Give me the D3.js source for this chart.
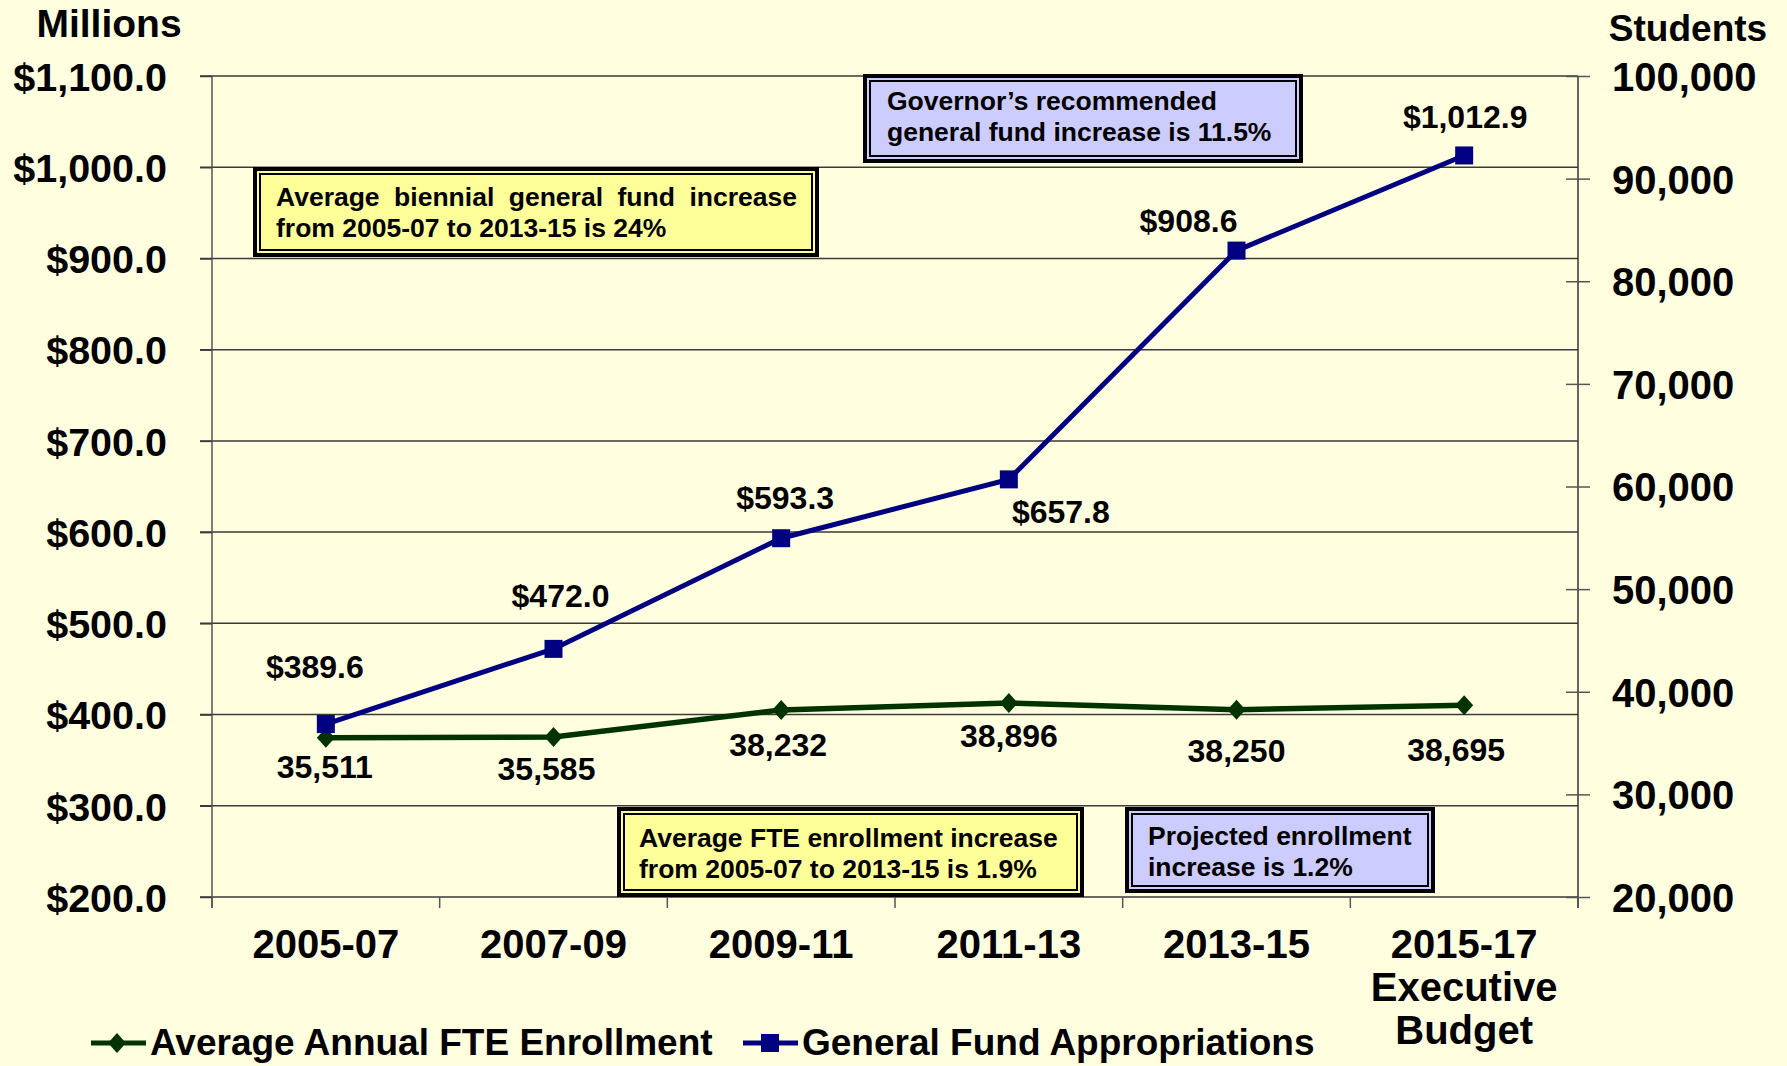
<!DOCTYPE html>
<html>
<head>
<meta charset="utf-8">
<script src="https://cdn.jsdelivr.net/npm/d3@7"></script>
<style>
  body { margin: 0; background: #ffffe0; }
  svg text { font-family: "Liberation Sans", Arial, sans-serif; font-weight: bold; fill: #000; }
</style>
</head>
<body>
<svg id="chart"></svg>
<script>
const categories = ['2005-07', '2007-09', '2009-11', '2011-13', '2013-15', '2015-17']
const categoryLines = [['2005-07'], ['2007-09'], ['2009-11'], ['2011-13'], ['2013-15'], ['2015-17', 'Executive', 'Budget']]
const fundValues = [389.6, 472.0, 593.3, 657.8, 908.6, 1012.9]
const enrollValues = [35511, 35585, 38232, 38896, 38250, 38695]
const leftTicks = [200, 300, 400, 500, 600, 700, 800, 900, 1000, 1100]
const rightTicks = [20000, 30000, 40000, 50000, 60000, 70000, 80000, 90000, 100000]
const seriesNames = ['Average Annual FTE Enrollment', 'General Fund Appropriations']

// where the value labels sit relative to their point (layout only)
const fundLabelOffset = [[-11, -46], [7, -42], [4, -29], [52, 44], [-48, -19], [1, -27]]
const enrollLabelOffset = [[-1, 40], [-7, 43], [-3, 46], [0, 44], [0, 52], [-8, 56]]

const notes = [
    { lines: ['Average biennial general fund increase', 'from 2005-07 to 2013-15 is 24%'], fill: '#ffff99', box: [253, 167, 819, 257], tx: 276, ty: 206, spread: 797 },
    { lines: ['Governor\u2019s recommended', 'general fund increase is 11.5%'], fill: '#ccccff', box: [863, 74, 1303, 163], tx: 887, ty: 110 },
    { lines: ['Average FTE enrollment increase', 'from 2005-07 to 2013-15 is 1.9%'], fill: '#ffff99', box: [617, 807, 1084, 897], tx: 639, ty: 847 },
    { lines: ['Projected enrollment', 'increase is 1.2%'], fill: '#ccccff', box: [1125, 807, 1435, 893], tx: 1148, ty: 845 },
]

const W = 1787, H = 1066
const plotL = 212, plotR = 1578, plotT = 76, plotB = 897
const navy = '#000080', green = '#003300'

const svg = d3.select('#chart').attr('width', W).attr('height', H)
svg.append('rect').attr('width', W).attr('height', H).attr('fill', '#ffffe0')

const x = d3.scaleBand().domain(categories).range([plotL, plotR])
const yL = d3.scaleLinear().domain([200, 1100]).range([plotB, plotT])
const yR = d3.scaleLinear().domain([20000, 100000]).range([plotB, plotT])
const cx = i => x(categories[i]) + x.bandwidth() / 2

// gridlines
svg.append('g').selectAll('line')
    .data(leftTicks)
    .enter().append('line')
    .attr('x1', plotL - 12).attr('x2', plotR)
    .attr('y1', d => yL(d)).attr('y2', d => yL(d))
    .attr('stroke', '#3a3a3a').attr('stroke-width', 1.5)

// left axis
const axL = svg.append('g').attr('transform', `translate(${plotL},0)`)
    .call(d3.axisLeft(yL).tickValues(leftTicks).tickSize(12).tickPadding(33)
        .tickFormat(d => '$' + d3.format(',.1f')(d)))
axL.select('.domain').attr('stroke', '#555').attr('stroke-width', 1.5).attr('d', `M0,${plotT}V${plotB + 11}`)
axL.selectAll('text').style('font-size', '39.5px').attr('dy', '0.36em')
axL.selectAll('line').attr('stroke', '#3a3a3a').attr('stroke-width', 1.5)

// right axis
const axR = svg.append('g').attr('transform', `translate(${plotR},0)`)
    .call(d3.axisRight(yR).tickValues(rightTicks).tickSize(12).tickPadding(22)
        .tickFormat(d3.format(',')))
axR.select('.domain').attr('stroke', '#333').attr('stroke-width', 1.5).attr('d', `M0,${plotT}V${plotB + 11}`)
axR.selectAll('line').attr('x1', -12).attr('x2', 12).attr('stroke', '#555').attr('stroke-width', 1.5)
axR.selectAll('text').style('font-size', '40px').attr('dy', '0.36em')

// bottom axis: ticks on category boundaries, labels centred
const bounds = categories.map(c => x(c)).concat([plotR])
svg.append('g').selectAll('line')
    .data(bounds)
    .enter().append('line')
    .attr('x1', d => d).attr('x2', d => d)
    .attr('y1', plotB).attr('y2', plotB + 11)
    .attr('stroke', '#555').attr('stroke-width', 1.5)

svg.append('g').selectAll('text')
    .data(categoryLines)
    .enter().append('text')
    .attr('text-anchor', 'middle')
    .style('font-size', '40px')
    .each(function (lines, i) {
        d3.select(this).selectAll('tspan')
            .data(lines)
            .enter().append('tspan')
            .attr('x', cx(i))
            .attr('y', (d, j) => 958 + j * 43)
            .text(d => d)
    })

// axis titles
svg.append('text').attr('x', 109).attr('y', 37).attr('text-anchor', 'middle').style('font-size', '39px').text('Millions')
svg.append('text').attr('x', 1688).attr('y', 41).attr('text-anchor', 'middle').style('font-size', '37px').text('Students')

// note boxes
notes.forEach(n => {
    const [x0, y0, x1, y1] = n.box
    const g = svg.append('g')
    g.append('rect').attr('x', x0 + 2).attr('y', y0 + 2).attr('width', x1 - x0 - 4).attr('height', y1 - y0 - 4)
        .attr('fill', n.fill).attr('stroke', '#000').attr('stroke-width', 4)
    g.append('rect').attr('x', x0 + 7).attr('y', y0 + 7).attr('width', x1 - x0 - 14).attr('height', y1 - y0 - 14)
        .attr('fill', 'none').attr('stroke', '#000').attr('stroke-width', 2)
    n.lines.forEach((t, j) => {
        const txt = g.append('text').attr('x', n.tx).attr('y', n.ty + j * 31)
            .style('font-size', '26.5px').text(t)
        if (n.spread && j === 0) {
            const natural = txt.node().getComputedTextLength()
            const gaps = t.split(' ').length - 1
            txt.style('word-spacing', ((n.spread - n.tx - natural) / gaps) + 'px')
        }
    })
})

// lines
const lineFund = d3.line().x((d, i) => cx(i)).y(d => yL(d))
const lineEnroll = d3.line().x((d, i) => cx(i)).y(d => yR(d))

svg.append('path').datum(enrollValues).attr('d', lineEnroll)
    .attr('fill', 'none').attr('stroke', green).attr('stroke-width', 5.5)
svg.append('path').datum(fundValues).attr('d', lineFund)
    .attr('fill', 'none').attr('stroke', navy).attr('stroke-width', 5)

const diamond = 'M0,-10L9,0L0,10L-9,0Z'

svg.append('g').selectAll('path')
    .data(enrollValues)
    .enter().append('path')
    .attr('d', diamond)
    .attr('transform', (d, i) => `translate(${cx(i)},${yR(d)})`)
    .attr('fill', green)

svg.append('g').selectAll('rect')
    .data(fundValues)
    .enter().append('rect')
    .attr('x', (d, i) => cx(i) - 9)
    .attr('y', d => yL(d) - 9)
    .attr('width', 18).attr('height', 18)
    .attr('fill', navy)

// value labels
svg.append('g').selectAll('text')
    .data(fundValues)
    .enter().append('text')
    .attr('x', (d, i) => cx(i) + fundLabelOffset[i][0])
    .attr('y', (d, i) => yL(d) + fundLabelOffset[i][1])
    .attr('text-anchor', 'middle')
    .style('font-size', '32px')
    .text(d => '$' + d3.format(',.1f')(d))

svg.append('g').selectAll('text')
    .data(enrollValues)
    .enter().append('text')
    .attr('x', (d, i) => cx(i) + enrollLabelOffset[i][0])
    .attr('y', (d, i) => yR(d) + enrollLabelOffset[i][1])
    .attr('text-anchor', 'middle')
    .style('font-size', '32px')
    .text(d => d3.format(',')(d))

// legend
const legend = svg.append('g')
const legendItems = [
    { name: seriesNames[0], color: green, x0: 91, mark: 'diamond' },
    { name: seriesNames[1], color: navy, x0: 743, mark: 'square' },
]
legendItems.forEach(it => {
    legend.append('line').attr('x1', it.x0).attr('x2', it.x0 + 55)
        .attr('y1', 1043).attr('y2', 1043)
        .attr('stroke', it.color).attr('stroke-width', 5)
    if (it.mark === 'diamond') {
        legend.append('path').attr('d', diamond)
            .attr('transform', `translate(${it.x0 + 26},1043)`).attr('fill', it.color)
    } else {
        legend.append('rect').attr('x', it.x0 + 18).attr('y', 1034).attr('width', 18).attr('height', 18).attr('fill', it.color)
    }
    legend.append('text').attr('x', it.x0 + 59).attr('y', 1055).style('font-size', '37px').text(it.name)
})
</script>
</body>
</html>
